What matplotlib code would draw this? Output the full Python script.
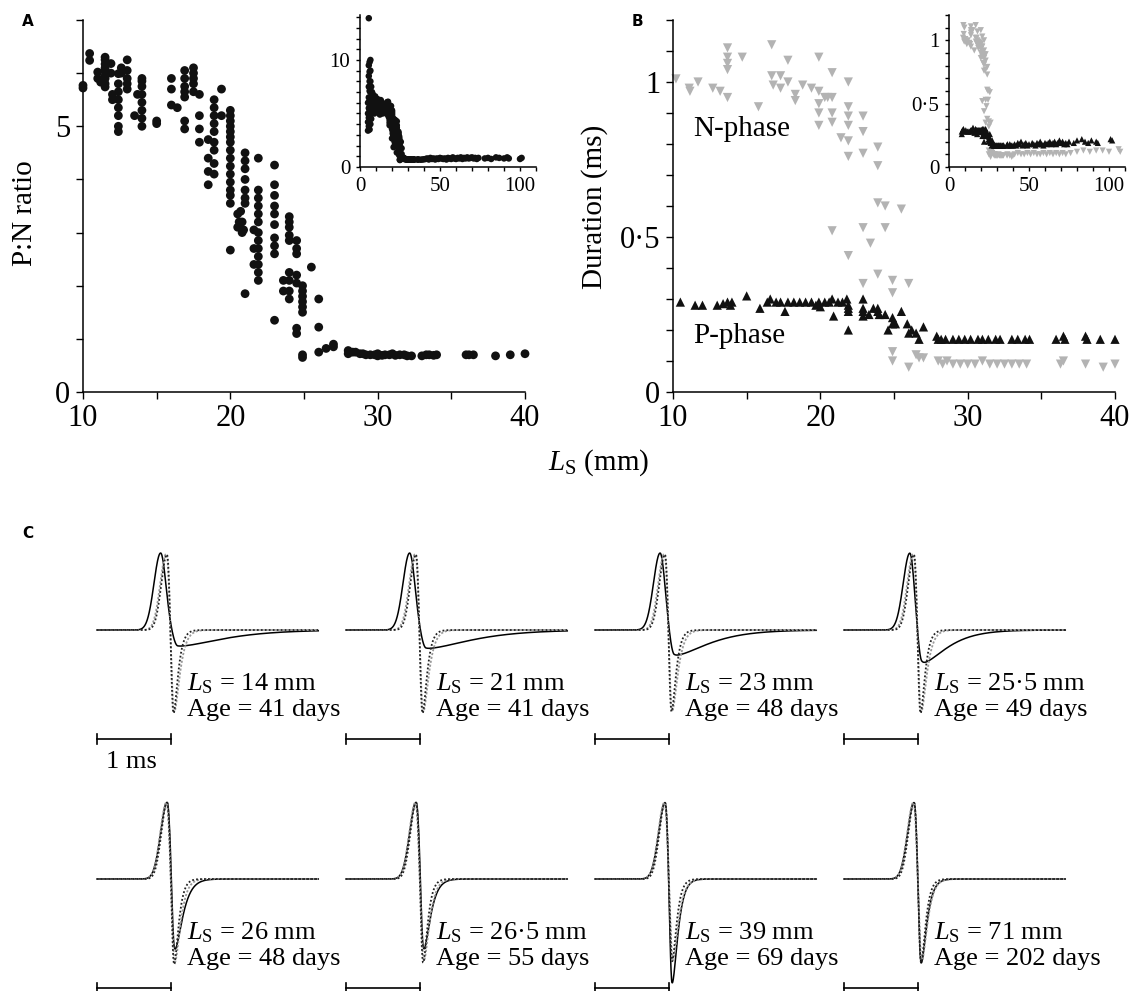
import numpy as np
import matplotlib
matplotlib.use("Agg")
import matplotlib.pyplot as plt
import matplotlib.ticker as ticker

plt.rcParams['font.family'] = ['Liberation Serif', 'DejaVu Serif']
plt.rcParams['mathtext.fontset'] = 'custom'
plt.rcParams['mathtext.rm'] = 'Liberation Serif'
plt.rcParams['mathtext.it'] = 'Liberation Serif:italic'

# ---- panel A : P:N ratio vs standard length (10-40 mm)
A_LS = [10.0, 10.0, 10.45, 10.45, 11.0, 11.0, 11.2,
        11.5, 11.5, 11.5, 11.5, 11.5, 11.9, 11.9,
        12.0, 12.0, 12.4, 12.4, 12.4, 12.4, 12.4, 12.4,
        12.6, 12.6, 13.0, 13.0, 13.0, 13.5, 13.7,
        14.0, 14.0, 14.0, 14.0, 14.0, 14.0, 15.0, 15.0,
        16.0, 16.0, 16.0, 16.4, 16.9, 16.9, 16.9, 16.9, 16.9,
        17.5, 17.5, 17.5, 17.9, 17.9, 17.9, 17.9,
        18.5, 18.5, 18.5, 18.5, 18.9, 18.9, 18.9, 18.9, 18.9,
        19.4, 19.4, 20.0, 20.0, 20.0, 20.0, 20.0, 20.0, 20.0, 20.0, 20.0,
        20.5, 20.5, 20.8, 20.8, 21.0, 21.0, 21.0, 21.0, 21.0,
        21.6, 21.6, 21.6, 21.9, 21.9, 21.9, 21.9, 21.9, 21.9, 21.9, 21.9,
        23.0, 23.0, 23.0, 23.0, 23.0, 23.0, 23.0, 23.6, 23.6,
        24.0, 24.0, 24.0, 24.0, 24.0, 24.5, 24.5, 24.5, 24.5, 24.5,
        24.9, 24.9, 24.9, 24.9, 24.9, 24.9, 25.5, 26.0, 26.0, 26.0,
        26.5, 27.0, 27.0, 28.0, 28.0, 28.5, 29.0, 29.5, 30.0, 30.0, 30.5,
        31.0, 31.5, 32.0, 33.0, 33.5, 34.0, 36.0, 36.5, 38.0, 39.0, 40.0,
        11.5, 11.5, 11.5, 11.5, 12.4, 12.4, 13.0, 13.0, 14.0, 14.0,
        16.9, 16.9, 17.5, 17.5, 18.9, 18.9, 18.9, 18.9,
        20.0, 20.0, 20.0, 20.0, 20.0, 20.0, 20.0, 20.6, 20.7, 20.9,
        21.0, 21.0, 21.0, 21.9, 21.9, 21.9, 21.9, 21.9,
        23.0, 23.0, 23.0, 24.0, 24.0, 24.0, 24.0, 24.5, 24.5, 24.9, 24.9,
        28.3, 28.8, 29.2, 29.8, 30.3, 30.8, 31.2, 31.8, 32.3, 33.3, 33.8, 36.2]
A_PN = [5.77, 5.72, 6.37, 6.24, 6.02, 5.9, 5.83,
        6.3, 6.17, 6.05, 5.9, 5.74, 6.18, 6.0,
        5.6, 5.5, 5.99, 5.8, 5.5, 5.2, 5.0, 4.9,
        6.1, 6.0, 6.25, 5.9, 5.7, 5.2, 5.6,
        5.9, 5.75, 5.6, 5.45, 5.3, 5.0, 5.1, 5.05,
        5.9, 5.7, 5.4, 5.35, 6.05, 5.75, 5.55, 5.1, 4.95,
        6.1, 5.9, 5.65, 5.6, 5.2, 4.95, 4.7,
        4.75, 4.4, 4.15, 3.9, 5.5, 5.2, 4.9, 4.55, 4.1,
        5.7, 5.2, 5.3, 5.1, 4.9, 4.7, 4.4, 4.1, 3.8, 3.55, 2.67,
        3.35, 3.1, 3.2, 3.0, 4.5, 4.2, 3.8, 3.55, 1.85,
        3.05, 2.7, 2.4, 4.4, 3.8, 3.5, 3.2, 3.0, 2.7, 2.4, 2.1,
        4.27, 3.9, 3.5, 3.15, 2.9, 2.6, 1.35, 2.1, 1.9,
        3.3, 3.1, 2.85, 2.25, 1.75, 2.85, 2.6, 2.05, 1.2, 1.1,
        2.0, 1.8, 1.6, 1.5, 0.7, 0.65, 2.35, 1.75, 1.22, 0.75,
        0.82, 0.9, 0.85, 0.78, 0.72, 0.75, 0.72, 0.7, 0.72, 0.68, 0.7,
        0.72, 0.7, 0.68, 0.68, 0.7, 0.7, 0.7, 0.7, 0.68, 0.7, 0.72,
        6.25, 6.1, 5.95, 5.8, 5.65, 5.35, 6.05, 5.8, 5.15, 5.85,
        5.9, 5.65, 6.0, 5.8, 5.35, 5.05, 4.7, 4.3,
        5.2, 5.0, 4.8, 4.55, 4.25, 3.95, 3.7, 3.2, 3.4, 3.05,
        4.35, 4.0, 3.65, 3.65, 3.35, 2.85, 2.55, 2.25,
        3.7, 3.35, 2.75, 3.2, 2.95, 2.1, 1.9, 2.7, 2.2, 1.9, 1.7,
        0.75, 0.72, 0.7, 0.7, 0.69, 0.7, 0.69, 0.7, 0.68, 0.7, 0.69, 0.7]

# extra fish only shown in the inset of A (younger and older)
A_YOUNG_LS = [5.5, 5.0, 5.0, 5.0, 5.0, 5.5, 5.5, 5.5, 5.5, 5.5, 5.5, 5.5,
              6.0, 6.0, 6.0, 6.0, 6.0, 6.0, 6.0, 6.0,
              6.5, 6.5, 6.5, 6.5, 6.5, 6.5, 6.5, 7.0, 7.0, 7.0, 7.0,
              7.5, 7.5, 7.5, 8.0, 8.0, 8.0, 8.5, 8.5, 8.5,
              9.0, 9.0, 9.0, 9.5, 9.5, 9.5]
A_YOUNG_PN = [13.9, 3.4, 4.2, 5.0, 6.0, 3.8, 4.6, 5.5, 6.5, 7.5, 8.5, 9.5,
              3.5, 4.4, 5.3, 6.2, 7.1, 8.0, 8.9, 9.8,
              4.0, 5.0, 6.0, 7.0, 8.0, 9.0, 10.0, 4.5, 5.5, 6.5, 7.5,
              5.0, 6.0, 7.0, 5.2, 6.2, 6.8, 5.3, 6.0, 6.6,
              5.0, 5.8, 6.5, 5.2, 6.0, 6.6]
A_OLD_LS = [41, 42, 43, 44, 45, 46, 47, 48, 49, 50, 51, 52, 53, 54, 55, 56, 57,
            58, 59, 60, 61, 62, 63, 64, 65, 66, 67, 68, 69, 70, 71, 72, 73, 74,
            78, 80, 82, 85, 87, 90, 92, 93, 100, 101]
A_OLD_PN = [0.75, 0.8, 0.7, 0.85, 0.75, 0.8, 0.7, 0.8, 0.75, 0.85, 0.8, 0.75,
            0.8, 0.7, 0.85, 0.8, 0.75, 0.9, 0.8, 0.75, 0.85, 0.8, 0.9, 0.75,
            0.85, 0.8, 0.9, 0.8, 0.85, 0.9, 0.8, 0.85, 0.75, 0.85,
            0.8, 0.85, 0.75, 0.9, 0.85, 0.8, 0.9, 0.8, 0.75, 0.85]

# ---- panel B : phase durations (ms)
N_LS = [10.2, 11.1, 11.15, 11.7, 12.7, 13.2, 13.7, 13.7, 13.7, 13.7, 13.7, 14.7, 15.8,
        16.7, 16.7, 16.8, 17.3, 17.3, 17.8, 17.8, 18.3, 18.3, 18.8, 19.4,
        19.9, 19.9, 19.9, 19.9, 19.9, 20.3, 20.5, 20.8, 20.8, 20.8, 20.8, 20.8,
        21.4, 21.9, 21.9, 21.9, 21.9, 21.9, 21.9, 21.9,
        22.9, 22.9, 22.9, 22.9, 22.9, 23.4, 23.9, 23.9, 23.9, 23.9, 24.4, 24.4,
        24.9, 24.9, 24.9, 24.9, 25.5, 26.0, 26.0, 26.5, 26.7, 27.0,
        28.0, 28.3, 28.6, 29.0, 29.5, 30.0, 30.5, 31.0, 31.5, 32.0, 32.5, 33.0, 33.5, 34.0,
        36.3, 36.5, 38.0, 39.2, 40.0]
N_DUR = [1.01, 0.98, 0.97, 1.0, 0.98, 0.97, 1.11, 1.08, 1.06, 1.04, 0.95, 1.08, 0.92,
         1.12, 1.02, 0.99, 1.02, 0.98, 1.07, 1.0, 0.96, 0.94, 0.99, 0.98,
         1.08, 0.97, 0.93, 0.9, 0.86, 0.95, 0.95, 1.03, 0.95, 0.9, 0.87, 0.52,
         0.82, 1.0, 0.92, 0.89, 0.86, 0.81, 0.76, 0.44,
         0.89, 0.84, 0.77, 0.53, 0.35, 0.48, 0.79, 0.73, 0.61, 0.38, 0.6, 0.53,
         0.36, 0.32, 0.13, 0.1, 0.59, 0.35, 0.08, 0.12, 0.11, 0.11,
         0.1, 0.09, 0.1, 0.09, 0.09, 0.09, 0.09, 0.1, 0.09, 0.09, 0.09, 0.09, 0.09, 0.09,
         0.09, 0.1, 0.09, 0.08, 0.09]
P_LS = [10.5, 11.5, 12.0, 13.0, 13.4, 13.7, 13.9, 14.0, 15.0, 15.9,
        16.4, 16.6, 17.0, 17.3, 17.6, 17.8, 18.2, 18.6, 19.0, 19.4,
        19.7, 19.9, 20.0, 20.3, 20.6, 20.8, 20.9, 21.2, 21.5, 21.8,
        21.9, 21.9, 21.9, 21.9, 22.9, 22.9, 22.9, 22.9, 23.3, 23.6,
        23.9, 23.9, 24.0, 24.4, 24.6, 24.9, 24.9, 25.1, 25.5, 25.9,
        26.0, 26.2, 26.5, 26.7, 27.0, 27.9, 28.0, 28.2, 28.5, 29.0,
        29.4, 29.8, 30.2, 30.7, 31.0, 31.4, 31.9, 32.2, 33.0, 33.4,
        33.9, 34.2, 36.0, 36.5, 36.6, 38.0, 38.1, 39.0, 40.0]
P_DUR = [0.29, 0.28, 0.28, 0.28, 0.285, 0.29, 0.28, 0.29, 0.31, 0.27,
         0.29, 0.3, 0.29, 0.29, 0.26, 0.29, 0.29, 0.29, 0.29, 0.29,
         0.28, 0.29, 0.275, 0.29, 0.29, 0.3, 0.245, 0.29, 0.29, 0.3,
         0.28, 0.27, 0.26, 0.2, 0.3, 0.27, 0.26, 0.245, 0.25, 0.27,
         0.27, 0.26, 0.25, 0.25, 0.2, 0.24, 0.22, 0.22, 0.26, 0.22,
         0.19, 0.2, 0.19, 0.17, 0.21, 0.18, 0.17, 0.17, 0.17, 0.17,
         0.17, 0.17, 0.17, 0.17, 0.17, 0.17, 0.17, 0.17, 0.17, 0.17,
         0.17, 0.17, 0.17, 0.18, 0.17, 0.18, 0.17, 0.17, 0.17]

# extra fish for the inset of B
P_YOUNG_LS = [8.0, 8.0, 8.5, 9.0, 9.5]
P_YOUNG_DUR = [0.28, 0.26, 0.29, 0.3, 0.28]
N_YOUNG_LS = [8.8, 9.0, 9.2, 9.5, 9.6]
N_YOUNG_DUR = [1.02, 1.12, 1.05, 0.99, 1.1]
P_OLD_LS = [41, 42, 43, 44, 45, 46, 47, 48, 49, 50, 52, 53, 54, 55, 56, 57, 58,
            59, 60, 61, 62, 63, 64, 65, 66, 67, 68, 69, 70, 71, 72, 73, 74, 75,
            78, 80, 83, 85, 87, 89, 92, 93, 101, 102]
P_OLD_DUR = [0.18, 0.17, 0.19, 0.18, 0.2, 0.17, 0.18, 0.19, 0.17, 0.18, 0.19,
             0.18, 0.17, 0.19, 0.18, 0.2, 0.18, 0.17, 0.19, 0.18, 0.19, 0.2,
             0.18, 0.19, 0.2, 0.18, 0.19, 0.21, 0.19, 0.2, 0.18, 0.19, 0.18,
             0.2, 0.19, 0.21, 0.22, 0.2, 0.19, 0.21, 0.2, 0.19, 0.22, 0.21]
N_OLD_LS = [41, 43, 45, 47, 49, 51, 53, 55, 57, 59, 61, 63, 65, 67, 69, 71, 73,
            76, 80, 84, 88, 92, 96, 100, 106, 107]
N_OLD_DUR = [0.1, 0.11, 0.1, 0.1, 0.11, 0.1, 0.11, 0.1, 0.1, 0.11, 0.1, 0.11,
             0.1, 0.11, 0.1, 0.11, 0.1, 0.11, 0.12, 0.13, 0.12, 0.13, 0.13,
             0.12, 0.14, 0.12]

# ---- panel C : example spikes
SPIKE_LS = ['14', '21', '23', '25·5', '26', '26·5', '39', '71']
SPIKE_AGE = ['41', '41', '48', '49', '48', '55', '69', '202']
# recorded spike (solid): peak time, fall width, trough time, depth, trough width, recovery tau (ms)
REC_TP = [0.86, 0.86, 0.88, 0.89, 0.95, 0.95, 0.95, 0.95]
REC_SR = [0.07, 0.07, 0.065, 0.06, 0.04, 0.04, 0.035, 0.035]
REC_TN = [1.09, 1.08, 1.07, 1.05, 1.045, 1.045, 1.04, 1.04]
REC_DEPTH = [0.21, 0.24, 0.33, 0.43, 0.95, 0.95, 1.38, 1.12]
REC_SN = [0.06, 0.06, 0.055, 0.05, 0.03, 0.03, 0.03, 0.03]
REC_TAU = [0.40, 0.40, 0.30, 0.22, 0.07, 0.06, 0.05, 0.05]
# reconstructed spikes (dotted black / dotted grey)
FIT_TP = [0.95, 0.95, 0.95, 0.95, 0.95, 0.95, 0.95, 0.95]
FIT_TN = [1.03, 1.03, 1.03, 1.03, 1.04, 1.04, 1.04, 1.04]
FIT_DEPTH = [1.14, 1.14, 1.12, 1.14, 1.14, 1.12, 1.1, 1.12]
FIT2_DEPTH = [1.1, 1.1, 1.08, 1.1, 1.1, 1.08, 1.06, 1.08]

GREY = '#b3b3b3'
W, H = 1133, 991


def px_rect(l, t, w, h):
    return [l / W, 1 - (t + h) / H, w / W, h / H]


def dot_fmt(v, pos):
    s = '%g' % v
    return s.replace('.', '·')


def style_axes(ax, lab_size, tick_len):
    for s in ['top', 'right']:
        ax.spines[s].set_visible(False)
    for s in ['left', 'bottom']:
        ax.spines[s].set_linewidth(1.1)
    ax.tick_params(which='both', direction='out', length=tick_len, width=1.0,
                   labelsize=lab_size, pad=4)
    ax.xaxis.set_major_formatter(ticker.FuncFormatter(dot_fmt))
    ax.yaxis.set_major_formatter(ticker.FuncFormatter(dot_fmt))


def spike(t, tp, sl, sr, tn, depth, sn, tau):
    p = np.where(t < tp, np.exp(-0.5 * ((t - tp) / sl) ** 2),
                 np.exp(-0.5 * ((t - tp) / sr) ** 2))
    x = np.clip((t - tn) / tau, 0, None)
    n = np.where(t < tn, np.exp(-0.5 * ((t - tn) / sn) ** 2), (1 + x) * np.exp(-x))
    return p - depth * n


fig = plt.figure(figsize=(11.33, 9.91), dpi=100)

# panel A
axA = fig.add_axes(px_rect(83, 20, 442, 372))
axA.scatter(A_LS, A_PN, s=40, c='#111111', edgecolors='none', clip_on=False, zorder=3)
axA.set_xlim(10, 40)
axA.set_ylim(0, 7)
axA.set_xticks([10, 20, 30, 40])
axA.set_xticks([15, 25, 35], minor=True)
axA.set_yticks([0, 5])
axA.set_yticks([1, 2, 3, 4, 6, 7], minor=True)
style_axes(axA, 22, 5)
fig.text(25 / W, 1 - 213 / H, 'P:N ratio', rotation=90, fontsize=21,
         ha='center', va='center')

insA = fig.add_axes(px_rect(360, 15, 176, 152))
insA.scatter(A_LS + A_YOUNG_LS + A_OLD_LS, A_PN + A_YOUNG_PN + A_OLD_PN,
             s=22, c='#111111', edgecolors='none', clip_on=False)
insA.set_xlim(0, 110)
insA.set_ylim(0, 14.2)
insA.set_xticks([0, 50, 100])
insA.xaxis.set_minor_locator(ticker.MultipleLocator(10))
insA.set_yticks([0, 10])
insA.yaxis.set_minor_locator(ticker.MultipleLocator(1))
style_axes(insA, 15, 3)

# panel B
axB = fig.add_axes(px_rect(673, 20, 442, 372))
axB.scatter(N_LS, N_DUR, s=44, marker='v', c=GREY, edgecolors='none', clip_on=False, zorder=2)
axB.scatter(P_LS, P_DUR, s=44, marker='^', c='#111111', edgecolors='none', clip_on=False, zorder=3)
axB.set_xlim(10, 40)
axB.set_ylim(0, 1.2)
axB.set_xticks([10, 20, 30, 40])
axB.set_xticks([15, 25, 35], minor=True)
axB.set_yticks([0, 0.5, 1])
axB.yaxis.set_minor_locator(ticker.MultipleLocator(0.1))
style_axes(axB, 22, 5)
axB.text(11.4, 0.85, 'N-phase', fontsize=21, va='center')
axB.text(11.4, 0.18, 'P-phase', fontsize=21, va='center')
fig.text(595 / W, 1 - 207 / H, 'Duration (ms)', rotation=90, fontsize=21,
         ha='center', va='center')

insB = fig.add_axes(px_rect(949, 15, 176, 152))
insB.scatter(N_YOUNG_LS + N_LS + N_OLD_LS, N_YOUNG_DUR + N_DUR + N_OLD_DUR,
             s=20, marker='v', c=GREY, edgecolors='none', clip_on=False)
insB.scatter(P_YOUNG_LS + P_LS + P_OLD_LS, P_YOUNG_DUR + P_DUR + P_OLD_DUR,
             s=20, marker='^', c='#111111', edgecolors='none', clip_on=False)
insB.set_xlim(0, 110)
insB.set_ylim(0, 1.2)
insB.set_xticks([0, 50, 100])
insB.xaxis.set_minor_locator(ticker.MultipleLocator(10))
insB.set_yticks([0, 0.5, 1])
insB.yaxis.set_minor_locator(ticker.MultipleLocator(0.1))
style_axes(insB, 15, 3)

fig.text(599 / W, 1 - 463 / H, r'$L_{\rm S}$ (mm)', fontsize=21, ha='center', va='center')

# panel letters
fig.text(22 / W, 1 - 21 / H, 'A', fontsize=11, fontweight='bold', family='DejaVu Sans', va='center')
fig.text(632 / W, 1 - 21 / H, 'B', fontsize=11, fontweight='bold', family='DejaVu Sans', va='center')
fig.text(22 / W, 1 - 534 / H, 'C', fontsize=11, fontweight='bold', family='DejaVu Sans', va='center')

# panel C
t = np.linspace(0, 2.99, 900)
ms_px, amp_px = 74.0, 77.0
for i in range(8):
    r, c = divmod(i, 4)
    left = 97 + 249 * c
    base = 630 + 249 * r
    ax = fig.add_axes(px_rect(left, base - 1.2 * amp_px, 3 * ms_px, 2.8 * amp_px))
    ax.set_xlim(0, 3)
    ax.set_ylim(-1.6, 1.2)
    ax.axis('off')
    rec = spike(t, REC_TP[i], 0.09, REC_SR[i], REC_TN[i], REC_DEPTH[i], REC_SN[i], REC_TAU[i])
    fit1 = spike(t, FIT_TP[i], 0.08, 0.035, FIT_TN[i], FIT_DEPTH[i], 0.03, 0.04)
    fit2 = spike(t, FIT_TP[i] - 0.01, 0.085, 0.04, FIT_TN[i] + 0.01, FIT2_DEPTH[i], 0.035, 0.05)
    ax.plot(t, rec, color='black', lw=1.1, clip_on=False)
    ax.plot(t, fit2, color='#9a9a9a', lw=1.3, ls=(0, (1.2, 1.0)), clip_on=False)
    ax.plot(t, fit1, color='#222222', lw=1.3, ls=(0, (1.0, 1.2)), clip_on=False)
    ax.text(1.22, -0.78, r'$L_{\rm S}$ = %s mm' % SPIKE_LS[i], fontsize=19,
            va='baseline', clip_on=False)
    ax.text(1.22, -1.12, 'Age = %s days' % SPIKE_AGE[i], fontsize=19,
            va='baseline', clip_on=False)
    yb = -109 / amp_px
    ax.plot([0, 1], [yb, yb], color='black', lw=1.2, clip_on=False)
    ax.plot([0, 0], [yb - 0.065, yb + 0.065], color='black', lw=1.2, clip_on=False)
    ax.plot([1, 1], [yb - 0.065, yb + 0.065], color='black', lw=1.2, clip_on=False)
    if i == 0:
        ax.text(0.47, -1.71, '1 ms', fontsize=19, ha='center', va='center', clip_on=False)

fig.savefig('out.png', dpi=100)
